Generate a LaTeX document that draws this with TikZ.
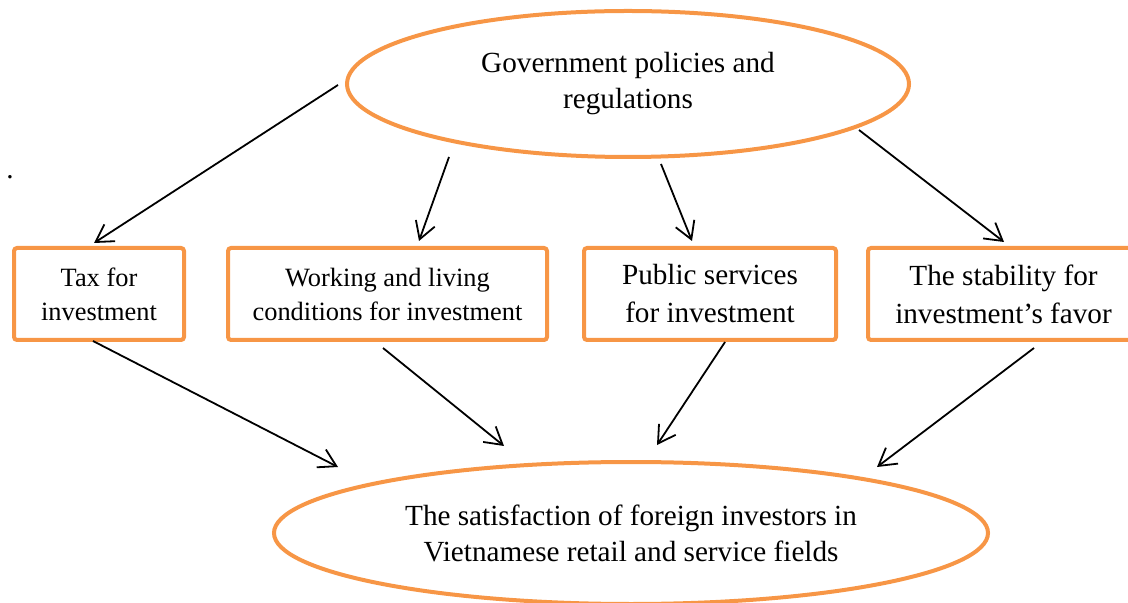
\documentclass[tikz,border=0pt]{standalone}
\usepackage{fontspec}
\setmainfont{Liberation Serif}
\usetikzlibrary{shapes.geometric,arrows.meta,calc}
\definecolor{frameorange}{HTML}{F79646}

\begin{document}
\begin{tikzpicture}[x=0.5pt,y=-0.5pt,
  oval/.style={ellipse,draw=frameorange,line width=2pt,inner sep=0pt,align=center,
    font=\fontsize{14.6}{18}\selectfont},
  box/.style={rectangle,draw=frameorange,line width=2pt,rounded corners=1.5pt,
    minimum height=46pt,inner sep=0pt,align=center},
  arr/.style={-{Straight Barb[length=8.5pt,width=10pt]},line width=0.9pt}]
\useasboundingbox (0,0) rectangle (1128,603);
\node[oval,minimum width=281pt,minimum height=73pt] (Gov) at (628,84) {Government policies and\\regulations};
\node[box,minimum width=85pt,font=\fontsize{13.2}{17}\selectfont] (Tax) at (99,294) {Tax for\\investment};
\node[box,minimum width=159.5pt,font=\fontsize{13.2}{17}\selectfont] (Work) at (387.5,294) {Working and living\\conditions for investment};
\node[box,minimum width=126pt,font=\fontsize{14.6}{19}\selectfont] (Pub) at (710,294) {Public services\\for investment};
\node[box,minimum width=135.5pt,font=\fontsize{14.6}{19}\selectfont] (Stab) at (1003.5,294) {The stability for\\investment’s favor};
\node[oval,minimum width=357pt,minimum height=71pt] (Sat) at (631,533) {The satisfaction of foreign investors in\\Vietnamese retail and service fields};
\node[inner sep=0pt,anchor=base west,font=\fontsize{14.6}{18}\selectfont] (Dot) at (6,179) {.};
\draw[arr] ($(Gov)+(-290,1)$)--($(Tax)+(-5,-51)$);
\draw[arr] ($(Gov)+(-179,73)$)--($(Work)+(31.5,-53)$);
\draw[arr] ($(Gov)+(33,80)$)--($(Pub)+(-18,-53)$);
\draw[arr] ($(Gov)+(231,46)$)--($(Stab)+(0.5,-52)$);
\draw[arr] ($(Tax)+(-6,47)$)--($(Sat)+(-293,-66)$);
\draw[arr] ($(Work)+(-4.5,54)$)--($(Sat)+(-127,-87)$);
\draw[arr] ($(Pub)+(15,48)$)--($(Sat)+(26,-88)$);
\draw[arr] ($(Stab)+(30.5,54)$)--($(Sat)+(246,-66)$);
\end{tikzpicture}
\end{document}
